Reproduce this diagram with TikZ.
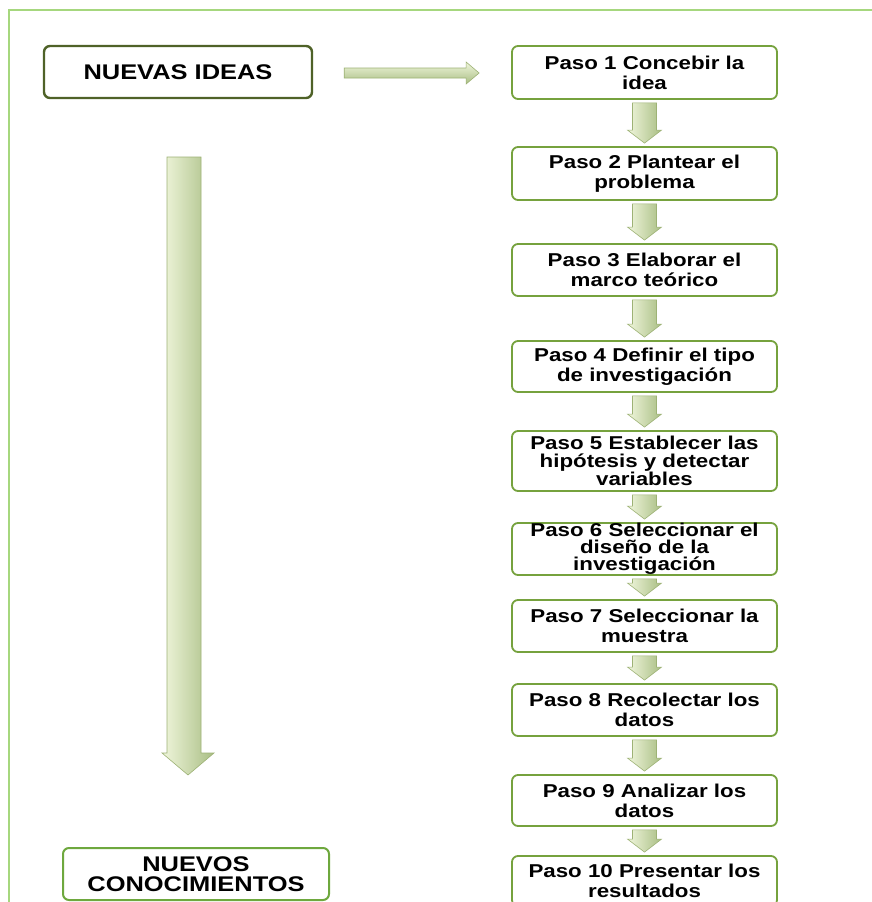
\documentclass[tikz,border=0pt]{standalone}
\usepackage{fontspec}
\setmainfont{Liberation Sans}[FakeStretch=1.2]
\usetikzlibrary{calc}
\definecolor{framec}{HTML}{A6D77E}
\definecolor{ideac}{HTML}{4F6228}
\definecolor{pasoc}{HTML}{76A23E}
\definecolor{concc}{HTML}{6EA83E}
\definecolor{arrlight}{HTML}{F0F6DC}
\definecolor{arrdark}{HTML}{A9BE84}
\definecolor{arredge}{HTML}{9DB275}
\tikzset{
  paso/.style={draw=pasoc, line width=1.8pt, rounded corners=6pt, fill=white,
    minimum width=265pt, text width=255pt, align=center, inner sep=0pt,
    font=\fontsize{18.6}{20}\selectfont\bfseries},
  bigbox/.style={line width=2.4pt, rounded corners=6pt, fill=white,
    minimum width=268pt, text width=255pt, align=center, inner sep=0pt,
    font=\fontsize{21.2}{20}\selectfont\bfseries},
  smallarr/.style={left color=arrlight, right color=arrdark, draw=arredge, line width=0.6pt},
  bigarr/.style={left color=arrlight, right color=arrdark, draw=arredge, line width=0.6pt},
  horarr/.style={top color=arrlight, bottom color=arrdark, draw=arredge, line width=0.6pt}
}
\newcommand\dnarrow[2]{%
  \path[smallarr] let \p1=(#1.south), \p2=(#2.north) in
    (\x1-12pt,\y1-3pt) -- (\x1+12pt,\y1-3pt) -- (\x1+12pt,\y2+16pt) --
    (\x1+17pt,\y2+16pt) -- (\x1,\y2+3pt) -- (\x1-17pt,\y2+16pt) --
    (\x1-12pt,\y2+16pt) -- cycle;}
\begin{document}
\begin{tikzpicture}[x=1pt,y=-1pt]
\clip (0,0) rectangle (872,902);
\fill[white] (0,0) rectangle (872,902);
\draw[framec, line width=1.2pt] (9,902) -- (9,10) -- (872,10);

\node[bigbox, draw=ideac, minimum height=52pt] (ni) at (178,72) {NUEVAS IDEAS};
\node[bigbox, draw=concc, line width=2pt, minimum height=52pt, minimum width=266pt,
      font=\fontsize{21.2}{19.5}\selectfont\bfseries] (nc) at (196,874) {NUEVOS\\CONOCIMIENTOS};

\node[paso, minimum height=53pt] (p1) at (644.5,72.5) {Paso 1 Concebir la\\idea};
\node[paso, minimum height=53pt] (p2) at (644.5,173.5) {Paso 2 Plantear el\\problema};
\node[paso, minimum height=52pt] (p3) at (644.5,270) {Paso 3 Elaborar el\\marco teórico};
\node[paso, minimum height=51pt] (p4) at (644.5,366.5) {Paso 4 Definir el tipo\\de investigación};
\node[paso, minimum height=60pt, font=\fontsize{18.6}{18}\selectfont\bfseries] (p5) at (644.5,461) {Paso 5 Establecer las\\hipótesis y detectar\\variables};
\node[paso, minimum height=52pt, font=\fontsize{18.6}{17}\selectfont\bfseries] (p6) at (644.5,549) {Paso 6 Seleccionar el\\diseño de la\\investigación};
\node[paso, minimum height=52pt] (p7) at (644.5,626) {Paso 7 Seleccionar la\\muestra};
\node[paso, minimum height=52pt] (p8) at (644.5,710) {Paso 8 Recolectar los\\datos};
\node[paso, minimum height=51pt] (p9) at (644.5,800.5) {Paso 9 Analizar los\\datos};
\node[paso, minimum height=50pt] (p10) at (644.5,881) {Paso 10 Presentar los\\resultados};

\dnarrow{p1}{p2}
\dnarrow{p2}{p3}
\dnarrow{p3}{p4}
\dnarrow{p4}{p5}
\dnarrow{p5}{p6}
\dnarrow{p6}{p7}
\dnarrow{p7}{p8}
\dnarrow{p8}{p9}
\dnarrow{p9}{p10}

% horizontal block arrow NUEVAS IDEAS -> Paso 1
\path[horarr] let \p1=(ni.east), \p2=(p1.west) in
  (\x1+31pt,\y1+4pt) -- (\x2-45pt,\y1+4pt) -- (\x2-45pt,\y1+10pt) -- (\x2-32pt,\y1-1pt) --
  (\x2-45pt,\y1-12pt) -- (\x2-45pt,\y1-6pt) -- (\x1+31pt,\y1-6pt) -- cycle;

% large down arrow NUEVAS IDEAS -> NUEVOS CONOCIMIENTOS
\coordinate (bigtip) at (188,775);
\path[bigarr] (167,157) -- (201,157) -- (201,753) -- (214,753) -- (bigtip) --
  (162,753) -- (167,753) -- cycle;
\end{tikzpicture}
\end{document}
